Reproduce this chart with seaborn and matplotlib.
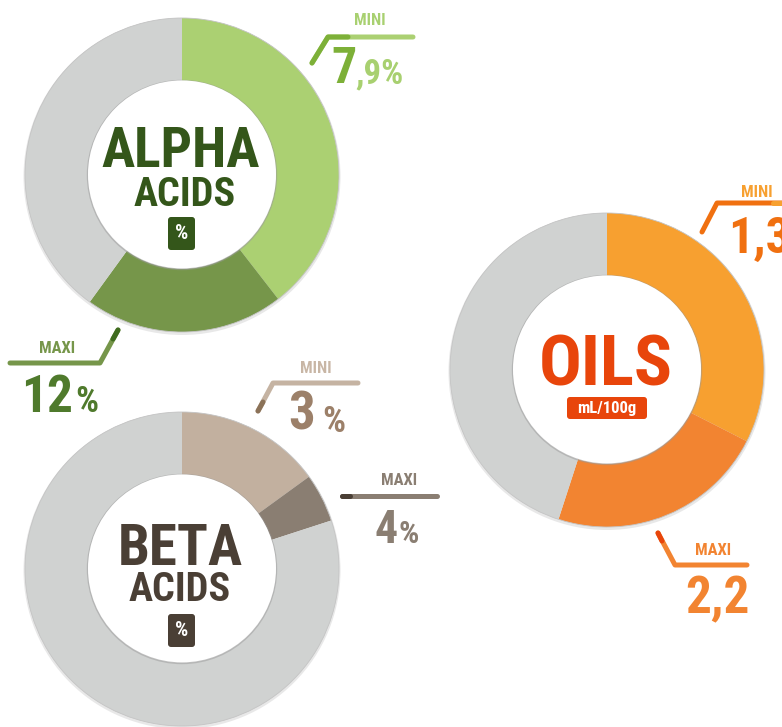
import matplotlib
matplotlib.use("Agg")
import matplotlib.pyplot as plt
import seaborn as sns
from matplotlib import font_manager as fm
from matplotlib.patches import FancyBboxPatch, Circle

# ---------------- data ----------------
titles = ["ALPHA", "BETA", "OILS"]
subtitles = ["ACIDS", "ACIDS", ""]
units = ["%", "%", "mL/100g"]
mini_values = [7.9, 3.0, 1.3]
maxi_values = [12.0, 4.0, 2.2]
scale_max = [20.0, 20.0, 4.0]
mini_big = ["7", "3", "1,3"]
mini_small = [",9%", "%", ""]
maxi_big = ["12", "4", "2,2"]
maxi_small = ["%", "%", ""]

# ---------------- style ----------------
sns.set_theme(style="white")
W, H = 782, 727
GRAY = "#D0D2D1"
light = ["#ABD072", "#C2B09F", "#F7A030"]
dark = ["#76964A", "#8A7E72", "#F28431"]
title_col = ["#34561A", "#4A3F35", "#E8450B"]

# pick a bold condensed font if available
def pick_font():
    prefs = [("roboto condensed", None), ("noto sans", "condensed"), ("liberation sans narrow", None),
             ("open sans", "condensed"), ("dejavu sans", "condensed")]
    fl = fm.fontManager.ttflist
    for name, st in prefs:
        for f in fl:
            n = f.name.lower()
            fn = f.fname.lower()
            w = f.weight if isinstance(f.weight, int) else 700 if "bold" in str(f.weight) else 400
            if "italic" in fn or "oblique" in fn:
                continue
            if st is None:
                if n == name and w == 700:
                    return f.fname
            else:
                if n.startswith(name) and ("condensedbold" in fn.replace("-", "").replace("_", "") and "extra" not in fn and "semi" not in fn):
                    return f.fname
    for f in fl:
        if f.name == "Roboto" and (f.weight == 700 or f.weight == "bold") and "italic" not in f.fname.lower():
            return f.fname
    return None

FONT = pick_font()

def fp(size):
    if FONT:
        return fm.FontProperties(fname=FONT, size=size)
    return fm.FontProperties(family="DejaVu Sans", weight="bold", size=size)

def Y(y):
    return H - y

fig = plt.figure(figsize=(W / 100, H / 100), dpi=100)
ax = fig.add_axes([0, 0, 1, 1])

centers = [(182, 175), (182, 569), (607, 370)]
R_OUT, R_IN = 157, 94

for i in range(3):
    cx, cy = centers[i]
    vals = [mini_values[i], maxi_values[i] - mini_values[i], scale_max[i] - maxi_values[i]]
    ax.add_patch(Circle((cx, Y(cy) - 1.5), R_OUT + 1.5, fc="#D9D9D9", ec="none", alpha=0.6, zorder=0))
    ax.pie(vals, center=(cx, Y(cy)), radius=R_OUT, startangle=90, counterclock=False,
           colors=[light[i], dark[i], GRAY], wedgeprops=dict(width=R_OUT - R_IN, linewidth=0))
    ax.add_patch(Circle((cx, Y(cy)), R_OUT, fc="none", ec="#C4C4C4", lw=0.6, zorder=3))
    ax.add_patch(Circle((cx, Y(cy)), R_IN + 1.2, fc="#9A9A9A", ec="none", alpha=0.5, zorder=3))
    ax.add_patch(Circle((cx, Y(cy) + 0.6), R_IN, fc="white", ec="none", zorder=4))

# ---------------- center labels ----------------
ax.text(181, Y(167), titles[0], fontproperties=fp(40), color=title_col[0], ha="center", va="baseline", zorder=5)
ax.text(185, Y(206), subtitles[0], fontproperties=fp(29), color=title_col[0], ha="center", va="baseline", zorder=5)
ax.add_patch(FancyBboxPatch((168, Y(250)), 27, 33, boxstyle="round,pad=0,rounding_size=3",
                            fc=title_col[0], ec="none", zorder=5))
ax.text(181.5, Y(233.5), units[0], fontproperties=fp(15), color="white", ha="center", va="center", zorder=6)

ax.text(180, Y(565), titles[1], fontproperties=fp(41), color=title_col[1], ha="center", va="baseline", zorder=5)
ax.text(180, Y(601), subtitles[1], fontproperties=fp(29), color=title_col[1], ha="center", va="baseline", zorder=5)
ax.add_patch(FancyBboxPatch((168, Y(647)), 27, 33, boxstyle="round,pad=0,rounding_size=3",
                            fc=title_col[1], ec="none", zorder=5))
ax.text(181.5, Y(630.5), units[1], fontproperties=fp(15), color="white", ha="center", va="center", zorder=6)

ax.text(606, Y(385), titles[2], fontproperties=fp(51), color=title_col[2], ha="center", va="baseline", zorder=5)
ax.add_patch(FancyBboxPatch((567, Y(419)), 80, 22, boxstyle="round,pad=0,rounding_size=3",
                            fc=title_col[2], ec="none", zorder=5))
ax.text(607, Y(408.5), units[2], fontproperties=fp(12), color="white", ha="center", va="center", zorder=6)

# ---------------- annotations ----------------
def line(xs, ys, color, lw=3.6):
    ax.plot(xs, [Y(v) for v in ys], color=color, lw=lw, solid_capstyle="round", zorder=6)

# alpha mini
ax.text(370, Y(25), "MINI", fontproperties=fp(12), color="#A8D070", ha="center", va="baseline")
line([312, 328, 413], [63, 37, 37], "#ABD072")
line([312, 328, 348], [63, 37, 37], "#7DB038")
ax.text(331, Y(83), mini_big[0], fontproperties=fp(36), color="#7DB038", ha="left", va="baseline")
ax.text(355, Y(83), mini_small[0], fontproperties=fp(25), color="#A8D070", ha="left", va="baseline")

# alpha maxi
ax.text(57, Y(353), "MAXI", fontproperties=fp(12), color="#76964A", ha="center", va="baseline")
line([10, 100, 118], [363, 363, 330], "#76964A")
line([113, 118], [339, 330], "#3F6B1F")
ax.text(21, Y(412), maxi_big[0], fontproperties=fp(37), color="#4F7A2C", ha="left", va="baseline")
ax.text(75, Y(412), maxi_small[0], fontproperties=fp(26), color="#4F7A2C", ha="left", va="baseline")

# beta mini
ax.text(316, Y(373), "MINI", fontproperties=fp(12), color="#C8B6A5", ha="center", va="baseline")
line([258, 273, 358], [411, 383, 383], "#C5B3A2")
line([258, 263], [411, 402], "#8B7258")
ax.text(288, Y(430), mini_big[1], fontproperties=fp(38), color="#9C8069", ha="left", va="baseline")
ax.text(322, Y(432), mini_small[1], fontproperties=fp(26), color="#9C8069", ha="left", va="baseline")

# beta maxi
ax.text(399, Y(485), "MAXI", fontproperties=fp(12), color="#8A7E72", ha="center", va="baseline")
line([342, 437], [496, 496], "#8A7E72")
line([342, 350], [496, 496], "#4A3F35")
ax.text(375, Y(543), maxi_big[1], fontproperties=fp(33), color="#8A7E72", ha="left", va="baseline")
ax.text(398, Y(543), maxi_small[1], fontproperties=fp(23), color="#8A7E72", ha="left", va="baseline")

# oils mini
ax.text(757, Y(197), "MINI", fontproperties=fp(12), color="#F7A030", ha="center", va="baseline")
line([702, 717, 790], [232, 203, 203], "#F07010")
line([773, 790], [203, 203], "#F7A030")
ax.text(728, Y(253), mini_big[2], fontproperties=fp(36), color="#F07010", ha="left", va="baseline")

# oils maxi
ax.text(713, Y(555), "MAXI", fontproperties=fp(12), color="#F28431", ha="center", va="baseline")
line([658, 675, 747], [533, 565, 565], "#F28431")
line([658, 662], [533, 541], "#E8450B")
ax.text(685, Y(613), maxi_big[2], fontproperties=fp(37), color="#F28431", ha="left", va="baseline")

ax.set_xlim(0, W)
ax.set_ylim(0, H)
ax.set_aspect("equal")
ax.axis("off")
fig.savefig("out.png", dpi=100, facecolor="white")
